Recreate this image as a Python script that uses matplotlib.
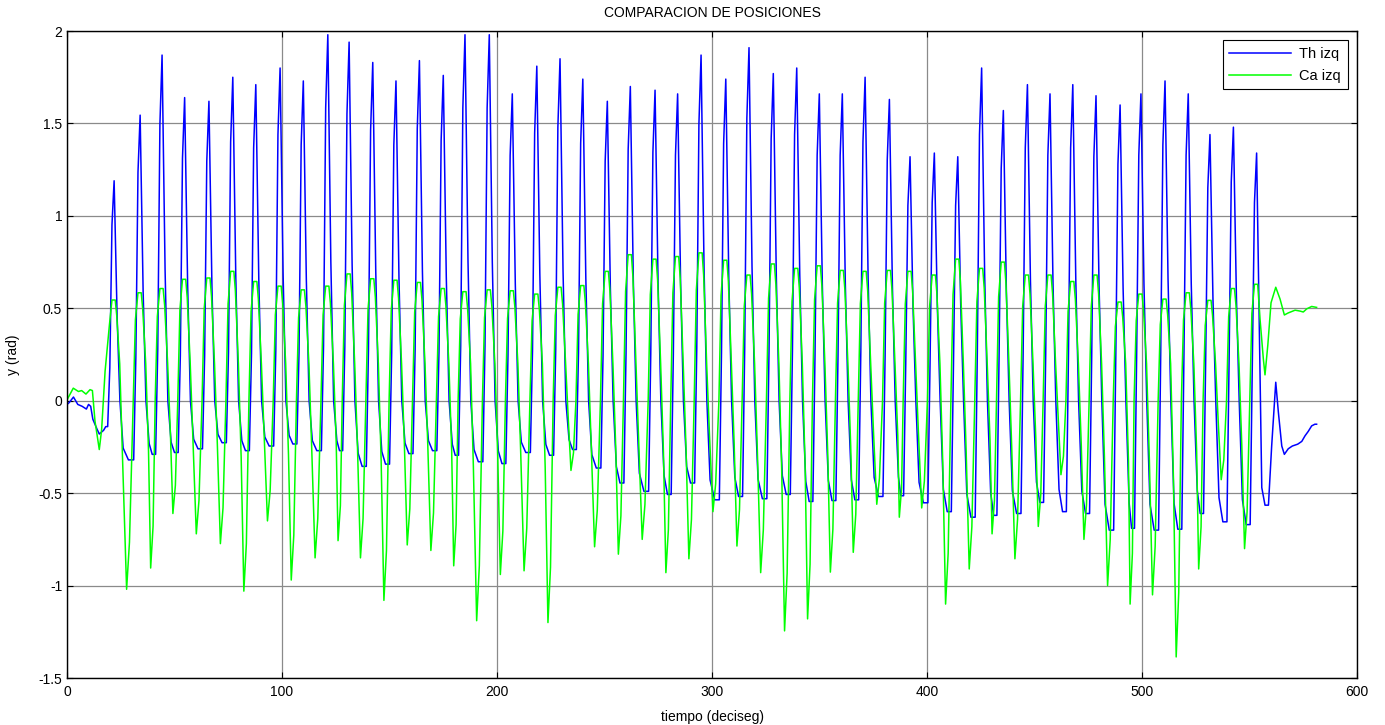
import matplotlib
matplotlib.use("Agg")
import matplotlib.pyplot as plt

plt.rcParams["font.family"] = ["Liberation Sans", "DejaVu Sans"]
plt.rcParams["axes.unicode_minus"] = False

# time of each Th peak (deciseg) and values
peak_t = [21.9, 34.0, 44.2, 54.7, 66.0, 77.1, 87.8, 99.1, 109.9, 121.3,
          131.2, 142.2, 153.0, 163.9, 175.0, 185.1, 196.4, 207.1, 218.5, 229.3,
          239.9, 251.3, 262.0, 273.5, 284.0, 294.9, 306.4, 317.2, 328.5, 339.4,
          349.9, 360.6, 371.2, 382.5, 392.1, 403.4, 414.3, 425.4, 435.5, 446.7,
          457.2, 467.8, 478.6, 489.8, 499.5, 510.7, 521.5, 531.6, 542.5, 553.3]
th_peak = [1.19, 1.545, 1.87, 1.64, 1.62, 1.75, 1.71, 1.80, 1.73, 1.98,
           1.94, 1.83, 1.73, 1.84, 1.76, 1.98, 1.98, 1.66, 1.81, 1.85,
           1.74, 1.62, 1.70, 1.68, 1.66, 1.87, 1.74, 1.91, 1.77, 1.80,
           1.66, 1.66, 1.75, 1.63, 1.32, 1.34, 1.32, 1.80, 1.57, 1.71,
           1.66, 1.71, 1.65, 1.60, 1.66, 1.73, 1.66, 1.44, 1.48, 1.34]
th_trough = [-0.32, -0.29, -0.28, -0.26, -0.227, -0.27, -0.245, -0.234, -0.27, -0.27,
             -0.355, -0.343, -0.286, -0.27, -0.295, -0.33, -0.34, -0.28, -0.295, -0.264,
             -0.364, -0.445, -0.49, -0.507, -0.445, -0.536, -0.518, -0.53, -0.507, -0.545,
             -0.54, -0.536, -0.518, -0.514, -0.552, -0.60, -0.63, -0.62, -0.61, -0.55,
             -0.60, -0.61, -0.70, -0.69, -0.70, -0.695, -0.61, -0.655, -0.67]
ca_peak = [0.545, 0.584, 0.607, 0.657, 0.664, 0.70, 0.645, 0.62, 0.60, 0.62,
           0.686, 0.66, 0.652, 0.64, 0.607, 0.59, 0.60, 0.595, 0.577, 0.614,
           0.623, 0.70, 0.79, 0.766, 0.78, 0.80, 0.76, 0.68, 0.74, 0.716,
           0.73, 0.705, 0.70, 0.705, 0.70, 0.68, 0.766, 0.716, 0.75, 0.68,
           0.68, 0.645, 0.68, 0.534, 0.577, 0.55, 0.584, 0.543, 0.607, 0.63]
ca_min = [-1.02, -0.905, -0.61, -0.72, -0.773, -1.03, -0.65, -0.97, -0.85, -0.757,
          -0.85, -1.08, -0.78, -0.81, -0.893, -1.19, -0.94, -0.92, -1.2, -0.377,
          -0.79, -0.83, -0.75, -0.93, -0.855, -0.6, -0.786, -0.93, -1.245, -1.18,
          -0.927, -0.82, -0.56, -0.63, -0.58, -1.10, -0.91, -0.72, -0.855, -0.68,
          -0.40, -0.75, -1.0, -1.1, -1.05, -1.386, -0.91, -0.427, -0.80]

# quiet stretch before the first step and settling after the last one
th_start_x = [0, 1, 3, 4, 5, 7, 9, 10, 11, 12, 14, 15, 17, 18]
th_start_y = [-0.02, -0.01, 0.02, 0.0, -0.02, -0.03, -0.045, -0.02, -0.03, -0.1, -0.155, -0.18, -0.16, -0.14]
th_tail_x = [554.4, 555.7, 557.2, 558.8, 560.3, 562.2, 563.4, 565.0, 566.2, 568.0,
             569.9, 572.4, 574.3, 575.8, 577.3, 578.9, 580.4, 581.2]
th_tail_y = [0.5, -0.47, -0.565, -0.565, -0.245, 0.10, -0.06, -0.245, -0.29, -0.26,
             -0.245, -0.235, -0.22, -0.19, -0.166, -0.136, -0.127, -0.127]
ca_start_x = [0, 2.9, 5.3, 6.8, 8.8, 10.7, 11.8, 13.0, 15.0, 16.1, 17.7]
ca_start_y = [0.005, 0.068, 0.05, 0.055, 0.036, 0.06, 0.055, -0.11, -0.264, -0.155, 0.16]
ca_tail_x = [554.9, 556.4, 557.2, 558.5, 560.0, 562.2, 564.2, 566.2, 568.0, 571.2,
             573.5, 575.0, 576.6, 578.9, 581.2]
ca_tail_y = [0.44, 0.23, 0.14, 0.30, 0.53, 0.614, 0.55, 0.464, 0.475, 0.49,
             0.485, 0.48, 0.497, 0.51, 0.505]


def build_th():
    xs, ys = list(th_start_x), list(th_start_y)
    prev_t = th_start_y[-1]
    n = len(peak_t)
    for i in range(n):
        tp, p = peak_t[i], th_peak[i]
        xs += [tp - 3, tp - 2, tp - 1, tp]
        ys += [prev_t, 0.15 * p, 0.8 * p, p]
        if i == n - 1:
            break
        per = peak_t[i + 1] - tp
        t = th_trough[i]
        xs += [tp + 1.4, tp + 2.7, tp + 4.2, tp + 0.55 * per]
        ys += [0.38 * p, 0.0, 0.8 * t, t]
        prev_t = t
    return xs + th_tail_x, ys + th_tail_y


def build_ca():
    xs, ys = list(ca_start_x), list(ca_start_y)
    n = len(peak_t)
    for i in range(n):
        tp, g = peak_t[i], ca_peak[i]
        rx = [tp - 3.2, tp - 2.2, tp - 1, tp + 0.5]
        ry = [0.0, 0.75 * g, g, g]
        if i == 0:
            rx, ry = rx[1:], ry[1:]
        xs += rx
        ys += ry
        if i == n - 1:
            break
        per = peak_t[i + 1] - tp
        m = ca_min[i]
        xs += [tp + 1.2, tp + 2.6, tp + 3.9, tp + 0.48 * per, tp + 0.59 * per]
        ys += [0.85 * g, 0.2, 0.3 * m, m, 0.75 * m]
    return xs + ca_tail_x, ys + ca_tail_y


fig = plt.figure(figsize=(13.85, 7.25), dpi=100)
ax = fig.add_axes([0.0484, 0.0648, 0.9314, 0.8924])

thx, thy = build_th()
cax, cay = build_ca()
ax.plot(thx, thy, color="#0000ff", lw=1.1, label="Th izq")
ax.plot(cax, cay, color="#00ff00", lw=1.1, label="Ca izq")

ax.set_xlim(0, 600)
ax.set_ylim(-1.5, 2)
xt = [0, 100, 200, 300, 400, 500, 600]
yt = [-1.5, -1, -0.5, 0, 0.5, 1, 1.5, 2]
ax.set_xticks(xt)
ax.set_xticklabels([str(v) for v in xt])
ax.set_yticks(yt)
ax.set_yticklabels(["%g" % v for v in yt])
ax.tick_params(direction="in", top=True, right=True, length=4, width=0.8, labelsize=10)
ax.tick_params(axis="x", pad=5)
ax.grid(True, color="#8a8a8a", lw=0.9)
ax.set_axisbelow(True)
for s in ax.spines.values():
    s.set_linewidth(1.0)

ax.set_title("COMPARACION DE POSICIONES", fontsize=10, pad=10)
ax.set_xlabel("tiempo (deciseg)", fontsize=10, labelpad=8)
ax.set_ylabel("y (rad)", fontsize=10, labelpad=13)

leg = ax.legend(loc="upper right", fontsize=10.5, fancybox=False, framealpha=1,
                edgecolor="black", handlelength=4.2, borderpad=0.45,
                labelspacing=0.55, handletextpad=0.6, borderaxespad=0,
                bbox_to_anchor=(0.9927, 0.986))
leg.get_frame().set_linewidth(0.8)

fig.savefig("out.png", dpi=100)
